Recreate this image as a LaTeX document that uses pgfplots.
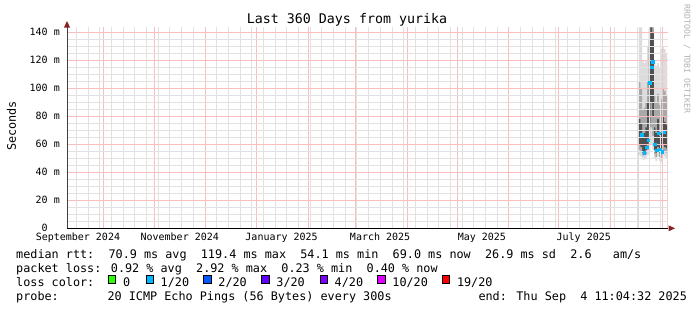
\documentclass[border=0pt]{standalone}
\usepackage{fontspec}
\setmainfont{DejaVu Sans Mono}
\usepackage{pgfplots}
\usepackage{pgfplotstable}
\pgfplotsset{compat=1.18}
\definecolor{lc0}{HTML}{26FF00}
\definecolor{lc1}{HTML}{00B8FF}
\definecolor{lc2}{HTML}{0059FF}
\definecolor{lc3}{HTML}{5E00FF}
\definecolor{lc4}{HTML}{7E00FF}
\definecolor{lc10}{HTML}{DD00FF}
\definecolor{lc19}{HTML}{FF0000}
\definecolor{sA}{HTML}{DCDCDC}
\definecolor{sB}{HTML}{A8A8A8}
\definecolor{sC}{HTML}{505050}
\definecolor{mgrid}{RGB}{250,190,190}
\definecolor{ngrid}{RGB}{226,226,226}
\definecolor{arrowc}{HTML}{8A1F1F}

% smoke: day, outer max, middle max, inner max, inner min, middle min, outer min (ms)
\pgfplotstableread{
d   hia   hib   hic   loc  lob  loa
343 143.4 105   78    60   56   52
344 143.4 100   75    58   55   51
345 120   85    66    54   52   49
346 118   86    68    55   52   49
347 120   90    72    56   53   50
348 130   105   90    60   56   52
349 143.4 143.4 135   75   63   55
350 143.4 143.4 143.4 90   72   60
351 143.4 143.4 140   80   66   56
352 118   95    72    56   53   50
353 116   90    68    54   51   48
354 118   96    78    58   55   51
355 115   88    66    54   51   48
356 128   92    68    53   50   47
357 130   100   80    60   56   52
358 128   98    76    58   55   51
359 125   95    74    57   54   50
}\smoke

% median rtt points with 1/20 loss
\pgfplotstableread{
d     med
344.3 67
345.8 53.8
347.3 58
348.2 63
349.2 104
350.4 115
350.9 119
352.2 60
353.2 55.7
354.4 68
355.2 56.4
356.4 54.8
357.8 68.6
}\median

\pgfplotsset{smokebar/.style={ybar, bar width=1, bar shift=0pt, draw=none}}

\begin{document}
\begin{tikzpicture}[x=1bp,y=1bp]
\fill[white] (0,0) rectangle (697,310);
\useasboundingbox (0,0) rectangle (697,310);

\begin{axis}[
  at={(67bp,81.7bp)}, anchor=south west,
  scale only axis, width=601bp, height=200.8bp,
  xmin=0, xmax=360, ymin=0, ymax=143.4,
  axis on top,
  axis x line=bottom, axis y line=left,
  x axis line style={-, black},
  y axis line style={-, black!75},
  major tick length=0pt, minor tick length=0pt,
  xtick={21.54,52.54,82.54,113.54,144.54,172.54,203.54,233.54,264.54,294.54,325.54,356.54},
  xticklabels={},
  extra x ticks={6.54,67.54,128.54,187.54,248.54,309.54},
  extra x tick labels={September 2024,November 2024,January 2025,March 2025,May 2025,July 2025},
  extra x tick style={xmajorgrids=false, xminorgrids=false},
  minor x tick num=0,
  minor xtick={5.54,12.54,19.54,26.54,33.54,40.54,47.54,54.54,61.54,68.54,75.54,89.54,96.54,103.54,110.54,117.54,124.54,131.54,138.54,145.54,152.54,159.54,166.54,173.54,180.54,187.54,194.54,201.54,208.54,215.54,222.54,229.54,236.54,243.54,250.54,257.54,271.54,278.54,285.54,292.54,299.54,306.54,313.54,320.54,327.54,334.54,341.54,348.54,355.54},
  xmajorgrids=true, xminorgrids=true,
  ytick={0,20,40,60,80,100,120,140},
  yticklabels={0\hphantom{~m},20~m,40~m,60~m,80~m,100~m,120~m,140~m},
  minor ytick={5,10,15,25,30,35,45,50,55,65,70,75,85,90,95,105,110,115,125,130,135},
  ymajorgrids=true, yminorgrids=true,
  major grid style={mgrid, line width=0.5bp},
  minor grid style={ngrid, line width=0.5bp},
  xticklabel style={font=\fontsize{10bp}{12bp}\selectfont, inner sep=0pt, yshift=-4.7bp},
  yticklabel style={font=\fontsize{10bp}{12bp}\selectfont, inner sep=0pt, xshift=-7bp},
]
\addplot[smokebar, fill=sA] table[x=d,y=hia]{\smoke};
\addplot[smokebar, fill=sB] table[x=d,y=hib]{\smoke};
\addplot[smokebar, fill=sC] table[x=d,y=hic]{\smoke};
\addplot[smokebar, fill=sB] table[x=d,y=loc]{\smoke};
\addplot[smokebar, fill=sA] table[x=d,y=lob]{\smoke};
\addplot[smokebar, fill=white] table[x=d,y=loa]{\smoke};
\addplot[only marks, mark=square*, mark size=1.3bp, color=lc1] table[x=d,y=med]{\median};
\end{axis}

% axis arrows
\fill[arrowc] (64,282.5) -- (70,282.5) -- (67,289) -- cycle;
\fill[arrowc] (668.5,78.7) -- (668.5,84.7) -- (675,81.7) -- cycle;

% title and labels
\node[anchor=base, inner sep=0pt, font=\fontsize{13.3bp}{15bp}\selectfont] at (347,286.7) {Last 360 Days from yurika};
\node[rotate=90, inner sep=0pt, font=\fontsize{11.8bp}{14bp}\selectfont] at (11.5,184) {Seconds};
\node[rotate=-90, inner sep=0pt, text=black!30, font=\fontsize{8.2bp}{10bp}\selectfont] at (687,251) {RRDTOOL / TOBI OETIKER};

% legend
\begin{scope}[every node/.style={anchor=base west, inner sep=0pt, font=\fontsize{11.8bp}{14bp}\selectfont}]
\node at (16,51.7) {median rtt:~~70.9 ms avg~~119.4 ms max~~54.1 ms min~~69.0 ms now~~26.9 ms sd~~2.6~~~am/s};
\node at (16,37.7) {packet loss: 0.92 \% avg~~2.92 \% max~~0.23 \% min~~0.40 \% now};
\node at (16,23.7) {loss color:};
\foreach \xx/\cc/\ll in {108.3/lc0/0, 146/lc1/1\slash 20, 203.7/lc2/2\slash 20, 261.7/lc3/3\slash 20, 320/lc4/4\slash 20, 377.7/lc10/10\slash 20, 442.3/lc19/19\slash 20}{
  \filldraw[fill=\cc, draw=black, line width=0.7bp] (\xx,26.9) rectangle ++(7.5,7.5);
  \node at (\xx+14.5,23.7) {\ll};
}
\node at (16,9.7) {probe:};
\node at (107.3,9.7) {20 ICMP Echo Pings (56 Bytes) every 300s};
\node at (478.3,9.7) {end: Thu Sep~~4 11:04:32 2025};
\end{scope}
\end{tikzpicture}
\end{document}
